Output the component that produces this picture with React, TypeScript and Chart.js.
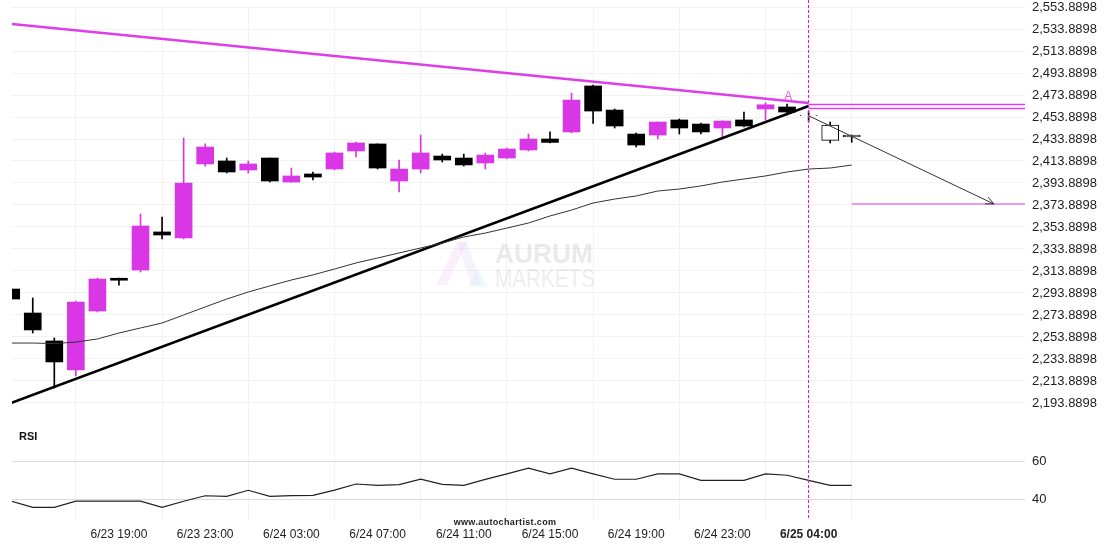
import { useEffect, useRef } from 'react';
import { Chart, registerables } from 'chart.js';

Chart.register(...registerables);

// ---- data ----
const tickIndex = [5, 9, 13, 17, 21, 25, 29, 33, 37];
const tickLabels = ['6/23 19:00', '6/23 23:00', '6/24 03:00', '6/24 07:00', '6/24 11:00', '6/24 15:00', '6/24 19:00', '6/24 23:00', '6/25 04:00'];

const opens = [2297.5, 2275.7, 2250.3, 2223.9, 2277.5, 2307.3, 2314.8, 2349.4, 2343.9, 2411.2,
  2413.9, 2405.7, 2416.6, 2394.8, 2402.1, 2406.6, 2423.0, 2429.4, 2395.7, 2406.6,
  2418.4, 2416.6, 2412.1, 2416.6, 2423.9, 2433.9, 2440.3, 2482.1, 2460.2, 2438.4,
  2437.5, 2451.2, 2447.5, 2443.9, 2451.2, 2461.2, 2463.0, 2455.4, 2446.6, 2437.5];
const highs = [2297.5, 2289.4, 2253.0, 2286.6, 2307.5, 2307.5, 2365.7, 2363.0, 2434.8, 2429.4,
  2416.6, 2413.9, 2416.6, 2407.5, 2403.9, 2422.1, 2431.2, 2429.5, 2414.8, 2437.5,
  2420.2, 2420.2, 2421.2, 2425.7, 2438.4, 2440.3, 2475.7, 2483.0, 2461.2, 2439.4,
  2449.5, 2452.1, 2448.4, 2450.5, 2458.4, 2467.0, 2465.7, 2458.8, 2449.3, 2437.5];
const lows = [2288.4, 2257.5, 2207.5, 2218.4, 2276.6, 2301.0, 2313.0, 2343.0, 2343.0, 2409.3,
  2403.0, 2403.0, 2394.8, 2394.5, 2396.6, 2405.7, 2417.5, 2406.6, 2385.7, 2403.0,
  2413.0, 2409.3, 2406.6, 2416.0, 2423.0, 2430.3, 2439.4, 2448.1, 2443.9, 2426.6,
  2433.9, 2438.4, 2438.4, 2433.9, 2444.8, 2451.2, 2455.7, 2449.6, 2430.3, 2430.9];
const closes = [2288.4, 2260.3, 2231.2, 2285.7, 2306.6, 2305.5, 2354.8, 2346.6, 2393.9, 2426.6,
  2403.9, 2411.2, 2395.7, 2400.3, 2399.3, 2421.2, 2430.3, 2407.5, 2406.6, 2421.2,
  2414.8, 2410.3, 2419.3, 2424.8, 2433.9, 2430.8, 2469.3, 2459.3, 2445.7, 2428.4,
  2449.3, 2443.9, 2440.3, 2450.2, 2445.7, 2465.0, 2458.4, 2455.0, 2432.6, 2435.7];
const movingAvg = [2248.4, 2248.4, 2247.9, 2249.3, 2252.1, 2257.5, 2262.1, 2266.6, 2273.9, 2281.2,
  2288.4, 2294.8, 2300.3, 2305.7, 2310.3, 2315.7, 2321.2, 2325.7, 2330.3, 2334.8,
  2339.3, 2344.8, 2348.4, 2352.9, 2357.5, 2363.9, 2369.3, 2375.7, 2379.3, 2382.1,
  2386.6, 2388.4, 2391.2, 2394.8, 2397.5, 2400.3, 2403.9, 2406.6, 2407.5, 2410.2];
const rsiValues = [38.9, 35.6, 35.6, 38.9, 38.9, 38.9, 38.9, 35.6, 38.8, 41.7,
  41.4, 44.6, 41.4, 41.8, 41.9, 44.7, 47.9, 47.2, 47.6, 50.4,
  47.7, 47.2, 50.3, 53.2, 56.2, 53.2, 56.2, 53.2, 50.4, 50.4,
  53.2, 53.2, 49.8, 49.8, 49.8, 53.2, 52.5, 49.8, 47.2, 47.2];

const priceTicks = [2193.8898, 2213.8898, 2233.8898, 2253.8898, 2273.8898, 2293.8898, 2313.8898, 2333.8898, 2353.8898, 2373.8898,
  2393.8898, 2413.8898, 2433.8898, 2453.8898, 2473.8898, 2493.8898, 2513.8898, 2533.8898, 2553.8898];
const rsiTicks = [40, 60];

// pattern (chart annotations, in data units)
const patternIdx = [0, 37];
const supportVals = [2193.9, 2463.9];
const resistanceVals = [2538.4, 2466.6];
const resistLevels = [2465.3, 2461.6];
const forecastIdx = [37, 45.6];
const forecastVals = [2455.0, 2374.8];
const targetStartIdx = 39;
const targetLevel = 2374.8;
const markerIdx = 36.05;
const markerVal = 2472.0;
const liveIdx = 37;

const newCandles = 37; // candles from here on are drawn hollow

// ---- scale ranges ----
const PMAX = 2553.8898;
const PMIN = PMAX - 513 / 1.1;
const RMAX = 60 + 454 / 1.9;
const RMIN = 60 - 59 / 1.9;
const XMIN = 0.037;
const XMAX = 47.04;

const priceForRsi = (r: number) => PMIN + ((r - RMIN) / (RMAX - RMIN)) * (PMAX - PMIN);

const MAGENTA = '#d936e6';
const LINE_MAGENTA = '#dc3ee9';

const overlay = {
  id: 'overlay',
  beforeDatasetsDraw(chart: any) {
    const { ctx } = chart;
    ctx.save();
    // watermark logo
    ctx.globalAlpha = 0.22;
    ctx.fillStyle = '#e7b9f0';
    ctx.beginPath();
    ctx.moveTo(436, 285); ctx.lineTo(457, 242); ctx.lineTo(467, 242); ctx.lineTo(447, 285); ctx.closePath(); ctx.fill();
    ctx.fillStyle = '#d9c2f2';
    ctx.beginPath();
    ctx.moveTo(457, 242); ctx.lineTo(467, 242); ctx.lineTo(482, 285); ctx.lineTo(471, 285); ctx.closePath(); ctx.fill();
    ctx.fillStyle = '#bfe8f7';
    ctx.beginPath();
    ctx.moveTo(478, 268); ctx.lineTo(489, 287); ctx.lineTo(467, 287); ctx.closePath(); ctx.fill();
    ctx.globalAlpha = 1;
    ctx.textBaseline = 'alphabetic';
    ctx.textAlign = 'left';
    ctx.fillStyle = 'rgba(200,200,205,0.38)';
    ctx.font = 'bold 27px "Liberation Sans", Arial, sans-serif';
    ctx.fillText('AURUM', 495, 263, 98);
    ctx.fillStyle = 'rgba(200,200,205,0.32)';
    ctx.font = '26px "Liberation Sans", Arial, sans-serif';
    ctx.fillText('MARKETS', 495, 287, 100);
    ctx.restore();
  },
  afterDatasetsDraw(chart: any) {
    const { ctx, chartArea } = chart;
    const x = chart.scales.x;
    const y = chart.scales.y;
    ctx.save();
    // live vertical dashed line
    const lx = Math.floor(x.getPixelForValue(liveIdx)) + 0.5;
    ctx.strokeStyle = '#f0f';
    ctx.lineWidth = 1;
    ctx.setLineDash([3, 2]);
    ctx.beginPath();
    ctx.moveTo(lx, 0);
    ctx.lineTo(lx, chartArea.bottom);
    ctx.stroke();
    ctx.setLineDash([]);
    // arrowhead on forecast line
    const x0 = x.getPixelForValue(forecastIdx[0]);
    const y0 = y.getPixelForValue(forecastVals[0]);
    const x1 = x.getPixelForValue(forecastIdx[1]);
    const y1 = y.getPixelForValue(forecastVals[1]);
    const ang = Math.atan2(y1 - y0, x1 - x0);
    ctx.strokeStyle = '#333';
    ctx.lineWidth = 1;
    ctx.beginPath();
    const len = 9;
    for (const d of [-0.42, 0.42]) {
      ctx.moveTo(x1, y1);
      ctx.lineTo(x1 - len * Math.cos(ang + d), y1 - len * Math.sin(ang + d));
    }
    ctx.stroke();
    // pattern marker
    ctx.fillStyle = '#e060f0';
    ctx.font = '12px "Liberation Sans", Arial, sans-serif';
    ctx.textAlign = 'center';
    ctx.textBaseline = 'middle';
    ctx.fillText('A', x.getPixelForValue(markerIdx), y.getPixelForValue(markerVal));
    ctx.restore();
  },
  afterDraw(chart: any) {
    const { ctx } = chart;
    ctx.save();
    ctx.fillStyle = '#111';
    ctx.textAlign = 'left';
    ctx.textBaseline = 'middle';
    ctx.font = 'bold 11px "Liberation Sans", Arial, sans-serif';
    ctx.fillText('RSI', 19, 437);
    ctx.fillStyle = '#222';
    ctx.textAlign = 'center';
    ctx.font = 'bold 9px "Liberation Sans", Arial, sans-serif';
    try { (ctx as any).letterSpacing = '0.35px'; } catch (e) {}
    ctx.fillText('www.autochartist.com', 505, 523);
    ctx.restore();
  },
};

export default function App() {
  const ref = useRef<HTMLCanvasElement | null>(null);

  useEffect(() => {
    if (!ref.current) return;
    const idx = opens.map((_, i) => i);
    const isHollow = (i: number) => i >= newCandles;
    const bodyFill = idx.map((i) => (isHollow(i) ? '#ffffff' : closes[i] >= opens[i] ? MAGENTA : '#000000'));
    const bodyBorder = idx.map((i) => (isHollow(i) ? '#000000' : bodyFill[i]));
    const wickColor = idx.map((i) => (isHollow(i) ? '#000000' : closes[i] >= opens[i] ? MAGENTA : '#000000'));

    const chart = new Chart(ref.current, {
      type: 'bar',
      data: {
        datasets: [
          {
            type: 'bar',
            label: 'body',
            data: idx.map((i) => ({ x: i, y: [opens[i], closes[i]] })) as any,
            backgroundColor: bodyFill,
            borderColor: bodyBorder,
            borderWidth: idx.map((i) => (isHollow(i) ? 1 : 0)),
            borderSkipped: false,
            barThickness: 17,
            grouped: false,
            order: 1,
          } as any,
          {
            type: 'bar',
            label: 'wick',
            data: idx.map((i) => ({ x: i, y: [lows[i], highs[i]] })) as any,
            backgroundColor: wickColor,
            borderWidth: 0,
            barThickness: 1,
            grouped: false,
            order: 2,
          } as any,
          {
            type: 'line',
            label: 'ma',
            data: idx.map((i) => ({ x: i, y: movingAvg[i] })),
            borderColor: '#333333',
            borderWidth: 1,
            pointRadius: 0,
            tension: 0,
            order: 0,
          },
          {
            type: 'line',
            label: 'support',
            data: patternIdx.map((p, k) => ({ x: p, y: supportVals[k] })),
            borderColor: '#000000',
            borderWidth: 2.5,
            pointRadius: 0,
            order: 0,
          },
          {
            type: 'line',
            label: 'resistance',
            data: patternIdx.map((p, k) => ({ x: p, y: resistanceVals[k] })),
            borderColor: LINE_MAGENTA,
            borderWidth: 2.5,
            pointRadius: 0,
            order: 0,
          },
          ...resistLevels.map((lv) => ({
            type: 'line' as const,
            label: 'level',
            data: [{ x: liveIdx, y: lv }, { x: XMAX, y: lv }],
            borderColor: LINE_MAGENTA,
            borderWidth: 1.5,
            pointRadius: 0,
            order: 0,
          })),
          {
            type: 'line',
            label: 'forecast',
            data: forecastIdx.map((p, k) => ({ x: p, y: forecastVals[k] })),
            borderColor: '#333333',
            borderWidth: 1,
            pointRadius: 0,
            order: 0,
          },
          {
            type: 'line',
            label: 'target',
            data: [{ x: targetStartIdx, y: targetLevel }, { x: XMAX, y: targetLevel }],
            borderColor: LINE_MAGENTA,
            borderWidth: 1,
            pointRadius: 0,
            order: 0,
          },
          {
            type: 'line',
            label: 'rsi',
            yAxisID: 'yRsi',
            data: idx.map((i) => ({ x: i, y: rsiValues[i] })),
            borderColor: '#222222',
            borderWidth: 1.2,
            pointRadius: 0,
            tension: 0,
            order: 0,
          },
        ] as any,
      },
      options: {
        responsive: false,
        animation: false,
        events: [],
        layout: { padding: { left: 12, top: 7, right: 0, bottom: 0 } },
        plugins: { legend: { display: false }, tooltip: { enabled: false } },
        scales: {
          x: {
            type: 'linear',
            min: XMIN,
            max: XMAX,
            offset: false,
            afterBuildTicks: (axis: any) => {
              axis.ticks = tickIndex.map((v) => ({ value: v }));
            },
            afterFit: (axis: any) => {
              axis.height = 30;
              axis.paddingLeft = 0;
              axis.paddingRight = 0;
            },
            ticks: {
              autoSkip: false,
              maxRotation: 0,
              padding: 7,
              color: '#222',
              font: (c: any) => ({
                family: '"Liberation Sans", Arial, sans-serif',
                size: 12,
                weight: c.tick && c.tick.value === liveIdx ? 'bold' : 'normal',
              }),
              callback: (v: any) => {
                const k = tickIndex.indexOf(Number(v));
                return k >= 0 ? tickLabels[k] : '';
              },
            },
            grid: { color: '#f2f2f2', drawTicks: false, lineWidth: 1 },
            border: { display: false },
          },
          y: {
            type: 'linear',
            position: 'right',
            min: PMIN,
            max: PMAX,
            afterBuildTicks: (axis: any) => {
              axis.ticks = [
                ...rsiTicks.map((r) => ({ value: priceForRsi(r), rsi: r })),
                ...priceTicks.map((v) => ({ value: v })),
              ];
            },
            afterFit: (axis: any) => {
              axis.width = 85;
              axis.paddingTop = 0;
              axis.paddingBottom = 0;
            },
            ticks: {
              autoSkip: false,
              padding: 7,
              color: '#222',
              font: { family: '"Liberation Sans", Arial, sans-serif', size: 13 },
              callback: (v: any, i: number, ticks: any[]) => {
                const t = ticks[i];
                if (t && t.rsi !== undefined) return String(t.rsi);
                return Number(v).toLocaleString('en-US', { minimumFractionDigits: 4, maximumFractionDigits: 4 });
              },
            },
            grid: {
              drawTicks: false,
              color: (c: any) => (c.tick && c.tick.rsi !== undefined ? '#dcdcdc' : '#f2f2f2'),
            },
            border: { display: false },
          },
          yRsi: {
            type: 'linear',
            axis: 'y',
            position: 'right',
            display: false,
            min: RMIN,
            max: RMAX,
          },
        },
      } as any,
      plugins: [overlay],
    });
    return () => chart.destroy();
  }, []);

  return (
    <div style={{ position: 'absolute', left: 0, top: 0, width: 1110, height: 550, background: '#fff' }}>
      <canvas ref={ref} width={1110} height={550} />
    </div>
  );
}
